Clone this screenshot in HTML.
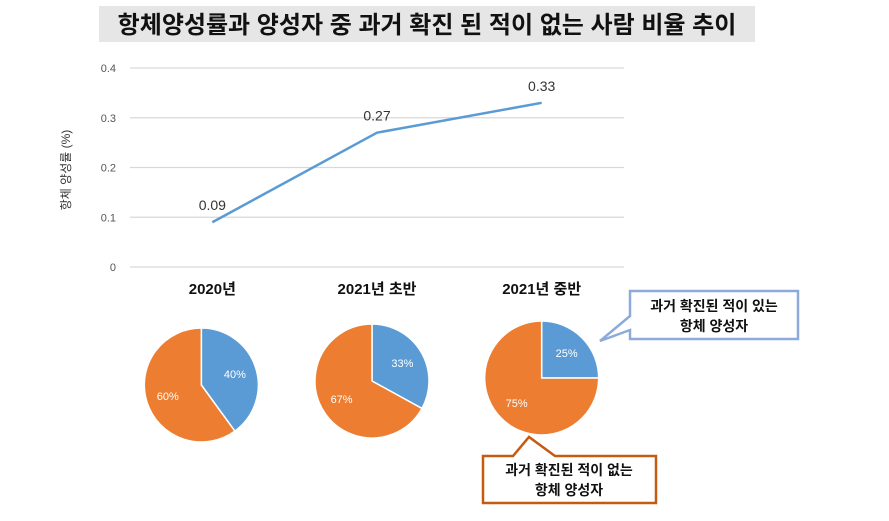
<!DOCTYPE html>
<html><head><meta charset="utf-8"><style>
html,body{margin:0;padding:0;background:#fff;width:889px;height:521px;overflow:hidden}
svg{display:block;font-family:"Liberation Sans","Noto Sans CJK KR",sans-serif}
</style></head><body>
<svg width="889" height="521">
<rect x="99" y="6" width="656" height="36" fill="#e7e6e6"/>
<text x="427" y="33" text-anchor="middle" font-size="24" font-weight="bold" fill="#111">항체양성률과 양성자 중 과거 확진 된 적이 없는 사람 비율 추이</text>
<g id="grid"></g>
<text transform="translate(70,170) rotate(-90)" text-anchor="middle" font-size="12" fill="#333">항체 양성률 (%)</text>
<g id="line"></g>
<g id="pies"></g>
<g>
<path d="M630,291 H798 V339 H630 V330 L600,341 L630,316 Z" fill="#fff" stroke="#8eaadb" stroke-width="2.5"/>
<text x="714" y="311" text-anchor="middle" font-size="14" font-weight="bold" fill="#111">과거 확진된 적이 있는</text>
<text x="714" y="331" text-anchor="middle" font-size="14" font-weight="bold" fill="#111">항체 양성자</text>
</g>
<g>
<path d="M483,456 H513 L529,437 L555,456 H656 V503 H483 Z" fill="#fff" stroke="#c55a11" stroke-width="2.5"/>
<text x="569" y="475" text-anchor="middle" font-size="14" font-weight="bold" fill="#111">과거 확진된 적이 없는</text>
<text x="569" y="495" text-anchor="middle" font-size="14" font-weight="bold" fill="#111">항체 양성자</text>
</g>
</svg>
<script>
const categories=["2020년","2021년 초반","2021년 중반"];
const rates=[0.09,0.27,0.33];
const yTicks=[0,0.1,0.2,0.3,0.4];
const blueShare=[40,33,25];
const orangeShare=[60,67,75];
const NS="http://www.w3.org/2000/svg";
function el(t,a,p){const e=document.createElementNS(NS,t);for(const k in a)e.setAttribute(k,a[k]);p.appendChild(e);return e;}
const x0=130,x1=624,yb=267,yt=68;
const y=v=>yb-(v/0.4)*(yb-yt);
const xc=i=>x0+(x1-x0)*(i+0.5)/categories.length;
const g=document.getElementById('grid');
yTicks.forEach(v=>{
 const l=el('line',{x1:x0,x2:x1,y1:y(v),y2:y(v),stroke:'#d9d9d9','stroke-width':1.3},g);
 
 
 const t=el('text',{x:116,y:y(v)+4,'text-anchor':'end','font-size':11,fill:'#555'},g);t.textContent=String(v);
 
 
});
categories.forEach((c,i)=>{
 const t=el('text',{x:xc(i),y:294,'text-anchor':'middle','font-size':15,'font-weight':'bold',fill:'#111'},g);t.textContent=c;
 
 
});
const lg=document.getElementById('line');
const p=el('polyline',{points:rates.map((v,i)=>xc(i)+','+y(v)).join(' '),fill:'none',stroke:'#5b9bd5','stroke-width':2.5},lg);


rates.forEach((v,i)=>{
 const t=el('text',{x:xc(i),y:y(v)-12,'text-anchor':'middle','font-size':14,fill:'#333'},lg);t.textContent=v.toFixed(2);
 
 
});
const pg=document.getElementById('pies');
const cys=[385,381,378];const r=57;
function arc(cx,cy,a0,a1){const s=[cx+r*Math.sin(a0),cy-r*Math.cos(a0)],e=[cx+r*Math.sin(a1),cy-r*Math.cos(a1)];
 return `M${cx},${cy} L${s[0]},${s[1]} A${r},${r} 0 ${a1-a0>Math.PI?1:0} 1 ${e[0]},${e[1]} Z`;}
categories.forEach((c,i)=>{
 const cx=xc(i)-(i==0?11:i==1?5:0),cy=cys[i];
 const tot=blueShare[i]+orangeShare[i];
 const ab=blueShare[i]/tot*2*Math.PI;
 const b=el('path',{d:arc(cx,cy,0,ab),fill:'#5b9bd5',stroke:'#fff','stroke-width':1.5},pg);
 
 
 const o=el('path',{d:arc(cx,cy,ab,2*Math.PI),fill:'#ed7d31',stroke:'#fff','stroke-width':1.5},pg);
 
 
 [[blueShare[i],ab/2],[orangeShare[i],ab+(2*Math.PI-ab)/2]].forEach(([v,a])=>{
  const t=el('text',{x:cx+r*0.62*Math.sin(a),y:cy-r*0.62*Math.cos(a)+4,'text-anchor':'middle','font-size':11,fill:'#fff'},pg);t.textContent=v+'%';
  
  
 });
});
</script>
</body></html>
